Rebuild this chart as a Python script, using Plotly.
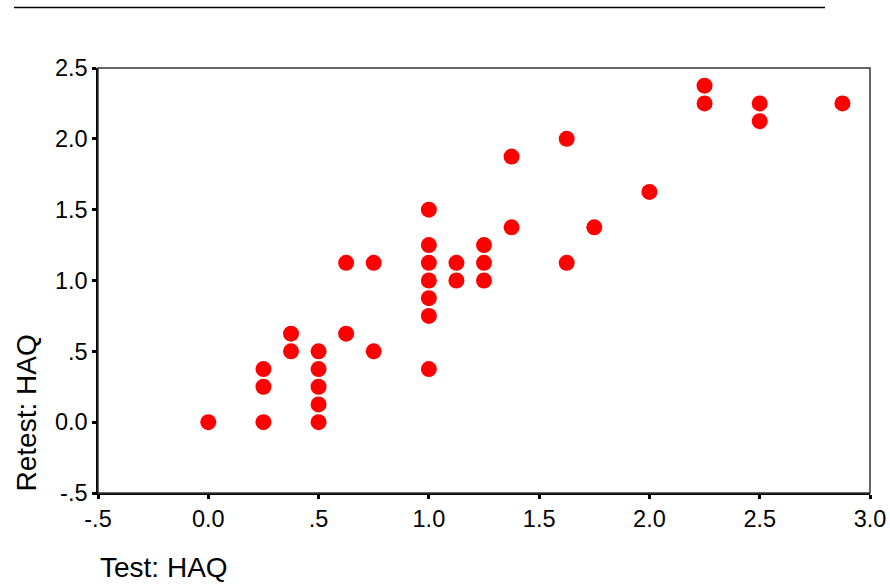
import plotly.graph_objects as go

# HAQ scores: first test vs. retest
test_haq = [0.0,
            0.25, 0.25, 0.25,
            0.375, 0.375,
            0.5, 0.5, 0.5, 0.5, 0.5,
            0.625, 0.625,
            0.75, 0.75,
            1.0, 1.0, 1.0, 1.0, 1.0, 1.0, 1.0,
            1.125, 1.125,
            1.25, 1.25, 1.25,
            1.375, 1.375,
            1.625, 1.625,
            1.75,
            2.0,
            2.25, 2.25,
            2.5, 2.5,
            2.875]
retest_haq = [0.0,
              0.0, 0.25, 0.375,
              0.5, 0.625,
              0.0, 0.125, 0.25, 0.375, 0.5,
              0.625, 1.125,
              0.5, 1.125,
              0.375, 0.75, 0.875, 1.0, 1.125, 1.25, 1.5,
              1.0, 1.125,
              1.0, 1.125, 1.25,
              1.375, 1.875,
              1.125, 2.0,
              1.375,
              1.625,
              2.25, 2.375,
              2.125, 2.25,
              2.25]

x_tick_vals = [-0.5, 0.0, 0.5, 1.0, 1.5, 2.0, 2.5, 3.0]
x_tick_text = ["-.5", "0.0", ".5", "1.0", "1.5", "2.0", "2.5", "3.0"]
y_tick_vals = [-0.5, 0.0, 0.5, 1.0, 1.5, 2.0, 2.5]
y_tick_text = ["-.5", "0.0", ".5", "1.0", "1.5", "2.0", "2.5"]

font_family = "Liberation Sans, Arial, sans-serif"

fig = go.Figure()
fig.add_trace(go.Scatter(
    x=test_haq, y=retest_haq, mode="markers",
    marker=dict(color="#ff0000", size=16, line=dict(width=0)),
    hoverinfo="x+y", showlegend=False,
))

axis_common = dict(
    showgrid=False, zeroline=False, automargin=False,
    showline=True, linecolor="black", linewidth=1.5,
    ticks="outside", ticklen=4, tickwidth=3, tickcolor="black",
    tickfont=dict(family=font_family, size=23.5, color="black"),
)

fig.update_xaxes(range=[-0.5, 3.0], tickvals=x_tick_vals, ticktext=x_tick_text, **axis_common)
fig.update_yaxes(range=[-0.5, 2.5], tickvals=y_tick_vals, ticktext=y_tick_text, **axis_common)

# plot area: x 98..870, y 68..493 (pixels)
fig.update_layout(
    width=890, height=588,
    margin=dict(l=98, r=20, t=68, b=95, autoexpand=False),
    plot_bgcolor="white", paper_bgcolor="white",
    shapes=[
        # plot frame
        dict(type="rect", xref="paper", yref="paper", x0=0, y0=0, x1=1, y1=1,
             line=dict(color="#333333", width=1.5)),
        # rule across the top of the page
        dict(type="line", xref="paper", yref="paper", x0=-0.1088, x1=0.9417,
             y0=1.1424, y1=1.1424, line=dict(color="black", width=1.5)),
    ],
    annotations=[
        dict(text="Test: HAQ", xref="paper", yref="paper", x=0, y=-0.176,
             xanchor="left", yanchor="middle", showarrow=False,
             font=dict(family=font_family, size=28, color="black")),
        dict(text="Retest: HAQ", xref="paper", yref="paper", x=-0.092, y=0,
             xanchor="center", yanchor="bottom", textangle=-90, showarrow=False,
             font=dict(family=font_family, size=28, color="black")),
    ],
)

fig.write_html("out.html")
